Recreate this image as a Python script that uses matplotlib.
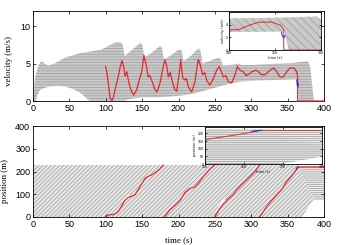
import numpy as np
import matplotlib
matplotlib.use("Agg")
import matplotlib.pyplot as plt

# red vehicle: velocity trace (s, m/s)
red_t = [100, 101.5, 104, 106, 108.5, 110.5, 113, 117, 120, 122.5, 125, 126.5, 129, 131,
         133.5, 136, 138.5, 142.5, 146, 149.5, 152.5, 156, 158.3, 160.6, 163, 167.7, 170.5,
         174.6, 179, 181.4, 184, 186, 188.7, 191, 195, 197.5, 200, 202, 203, 205.7, 208.5,
         211, 213.5, 218, 222.7, 227, 228, 231, 233, 236, 238.7, 243, 248, 252.5, 256, 259,
         261.6, 265, 268.5, 273, 277.7, 281, 283, 285, 289, 293, 297, 300.6, 306.5, 310, 314,
         319, 325.8, 331, 335, 339.5, 344, 348.7, 353, 358.8, 362.5, 363.8, 363.8, 400]
red_v = [4.6, 3.8, 2.0, 0.4, 0.0, 0.5, 1.6, 3.2, 4.6, 5.4, 4.4, 3.3, 3.9, 2.8,
         1.8, 1.2, 0.8, 1.5, 2.8, 3.9, 6.1, 4.6, 3.2, 3.4, 2.8, 1.5, 1.2,
         2.4, 4.6, 5.5, 4.6, 3.2, 3.8, 2.8, 1.5, 1.3, 3.0, 4.4, 5.5, 3.2, 2.8,
         3.0, 1.9, 1.2, 2.6, 5.5, 5.4, 4.4, 3.5, 3.8, 2.8, 2.1, 3.0, 4.1, 4.6, 3.9,
         3.2, 3.4, 2.6, 2.4, 3.5, 4.6, 4.3, 4.1, 3.9, 3.4, 3.6, 3.9, 4.1, 3.9, 3.5,
         3.5, 4.1, 4.4, 3.9, 3.2, 3.2, 3.9, 4.4, 4.4, 3.9, 3.2, 0.0, 0.0]
blue_t = [362.8, 363.2, 363.8, 364.4]
blue_v = [2.8, 2.2, 1.9, 2.3]

# red vehicle: position on the ring (nan = wrap)
pos_t = [100, 103, 106, 111, 116, 120, 126, 130, 133, 137, 140, 147, 154, 158, 163, 170, 174, 177, 179.5, np.nan,
         180.5, 183, 188, 195, 202, 209, 216, 222.7, 228, 234, 243, 249.5, np.nan,
         250, 257, 261.6, 268.5, 275, 280, 287, 293.7, 300, 305, 311.5, np.nan,
         311.5, 316, 321, 328, 335, 342, 348.7, 354, 358, 362, 364.5, 400]
pos_x = [3, 8, 10, 11, 20, 38, 72, 84, 89, 93, 97, 133, 170, 178, 185, 199, 210, 222, 228, np.nan,
         0, 10, 31, 50, 72, 108, 126, 133, 152, 177, 210, 228, np.nan,
         0, 38, 58, 80, 98, 119, 143, 163, 183, 199, 228, np.nan,
         0, 20, 45, 72, 97, 121, 155, 175, 190, 208, 220, 220]
blue_pt = [362, 364.5]
blue_px = [214, 220]

# envelope of all vehicles' velocities
up_t = [0, 3, 8, 12, 16, 21, 30, 42, 55, 65, 80, 95, 105, 113, 120, 123, 126, 136, 147, 150, 153,
        164, 174, 177, 180, 191, 201, 204, 207, 217, 227, 230, 233, 245, 255, 258, 261, 272, 283,
        286, 300, 320, 340, 360, 370, 378, 381, 386]
up_v = [0, 3.2, 4.9, 5.3, 5.0, 4.7, 5.0, 5.7, 6.1, 6.4, 6.6, 6.9, 7.4, 7.8, 7.8, 7.6, 6.0, 6.8, 7.7, 7.6, 5.8,
        6.5, 7.3, 7.2, 5.5, 6.2, 6.9, 6.8, 5.3, 6.0, 7.0, 6.8, 5.0, 5.4, 5.8, 5.6, 4.7, 4.8, 5.0,
        4.8, 4.8, 4.9, 5.0, 5.1, 5.2, 5.3, 4.5, 0]
lo_t = [0, 4, 6, 10, 20, 35, 45, 55, 65, 72, 78, 125, 135, 150, 170, 190, 210, 225, 240, 255,
        270, 285, 300, 330, 360, 364, 366, 386]
lo_v = [0, 0, 0.8, 1.5, 1.9, 2.0, 1.9, 1.6, 1.1, 0.5, 0, 0, 0.3, 0.5, 0.5, 0.6, 0.8, 1.1, 1.5, 1.9,
        2.3, 2.6, 2.7, 2.8, 2.9, 2.9, 0, 0]

# moving traffic and stopped queue in the space-time plane
move_t = [0, 0, 364.5, 385.7, 369.6]
move_x = [0, 228, 228, 75, 0]
queue_t = [364.5, 400, 400, 385.7]
queue_x = [222, 222, 75, 75]

# empty gaps opening ahead of the red vehicle
gap_t = [[122, 131, 134], [155, 166, 168], [210, 220, 222], [252, 262, 265]]
gap_x = [[62, 100, 90], [172, 196, 192], [113, 137, 133], [30, 82, 70]]

plt.rcParams['hatch.linewidth'] = 0.6
red = '#e8262b'
blue = '#1f2bd6'
serif = 'Liberation Serif'
sans = 'Liberation Sans'

fig = plt.figure(figsize=(3.39, 2.45), dpi=100)
W, H = 339.0, 245.0
ax1 = fig.add_axes([33 / W, 1 - 101 / H, 291 / W, 90 / H])
ax2 = fig.add_axes([33 / W, 1 - 217 / H, 291 / W, 91 / H])
in1 = fig.add_axes([229 / W, 1 - 50 / H, 92 / W, 38 / H])
in2 = fig.add_axes([205 / W, 1 - 164 / H, 116.5 / W, 37.5 / H])


def band(ax, h):
    bx = list(up_t) + list(lo_t[::-1])
    by = list(up_v) + list(lo_v[::-1])
    ax.fill(bx, by, facecolor='#cacaca', edgecolor='#a2a2a2', hatch=h, lw=0)


def road(ax, h1, h2):
    ax.fill(move_t, move_x, facecolor='#e8e8e8', edgecolor='#a4a4a4', hatch=h1, lw=0)
    ax.fill(queue_t, queue_x, facecolor='#efefef', edgecolor='#a4a4a4', hatch=h2, lw=0)


def style(ax, fs):
    ax.tick_params(direction='in', top=True, right=True, labelsize=fs,
                   length=2.5 if fs > 4 else 1.2, width=0.5, pad=2 if fs > 4 else 0.8)
    for s in ax.spines.values():
        s.set_linewidth(0.6)
    for lab in ax.get_xticklabels() + ax.get_yticklabels():
        lab.set_fontfamily(sans)


# top: velocities
band(ax1, '------')
ax1.plot(red_t, red_v, color=red, lw=0.9, clip_on=False, zorder=3)
ax1.plot(blue_t, blue_v, color=blue, lw=0.9, zorder=4)
ax1.set_xlim(0, 400)
ax1.set_ylim(0, 12)
ax1.set_xticks(np.arange(0, 401, 50))
ax1.set_yticks([0, 5, 10])
ax1.set_ylabel('velocity (m/s)', family=serif, fontsize=6.5)
ax1.yaxis.set_label_coords(-0.07, 0.45)
style(ax1, 6.5)

# bottom: positions
road(ax2, '////////', '--------')
for gt, gx in zip(gap_t, gap_x):
    ax2.fill(gt, gx, facecolor='white', lw=0, zorder=2)
ax2.plot(pos_t, pos_x, color=red, lw=0.9, zorder=3)
ax2.plot(blue_pt, blue_px, color=blue, lw=0.9, zorder=4)
ax2.set_xlim(0, 400)
ax2.set_ylim(0, 400)
ax2.set_xticks(np.arange(0, 401, 50))
ax2.set_yticks(np.arange(0, 401, 100))
ax2.set_ylabel('position (m)', family=serif, fontsize=6.5)
ax2.set_xlabel('time (s)', family=serif, fontsize=6.5)
ax2.yaxis.set_label_coords(-0.083, 0.40)
ax2.xaxis.set_label_coords(0.5, -0.21)
style(ax2, 6.5)

# inset: velocity near the stop
in1.set_facecolor('white')
band(in1, '\\\\\\\\')
in1.plot(red_t, red_v, color=red, lw=0.7, zorder=3)
in1.plot(blue_t, blue_v, color=blue, lw=0.7, zorder=4)
in1.set_xlim(340, 380)
in1.set_ylim(0, 6)
in1.set_xticks([340, 360, 380])
in1.set_yticks([0, 2, 4])
in1.set_xlabel('time (s)', fontsize=2.5, labelpad=0.5)
in1.set_ylabel('velocity (m/s)', fontsize=2.5, labelpad=0.5)
style(in1, 2.5)

# inset: position near the stop
in2.set_facecolor('white')
road(in2, '--------', '--------')
in2.plot(pos_t, pos_x, color=red, lw=0.7, zorder=3)
in2.plot(blue_pt, blue_px, color=blue, lw=0.7, zorder=4)
in2.set_xlim(350, 380)
in2.set_ylim(0, 245)
in2.set_xticks([350, 360, 370, 380])
in2.set_yticks([0, 50, 100, 150, 200])
in2.set_xlabel('time (s)', fontsize=2.5, labelpad=0.5)
in2.set_ylabel('position (m)', fontsize=2.5, labelpad=0.5)
style(in2, 2.5)

fig.savefig('out.png', dpi=100)
